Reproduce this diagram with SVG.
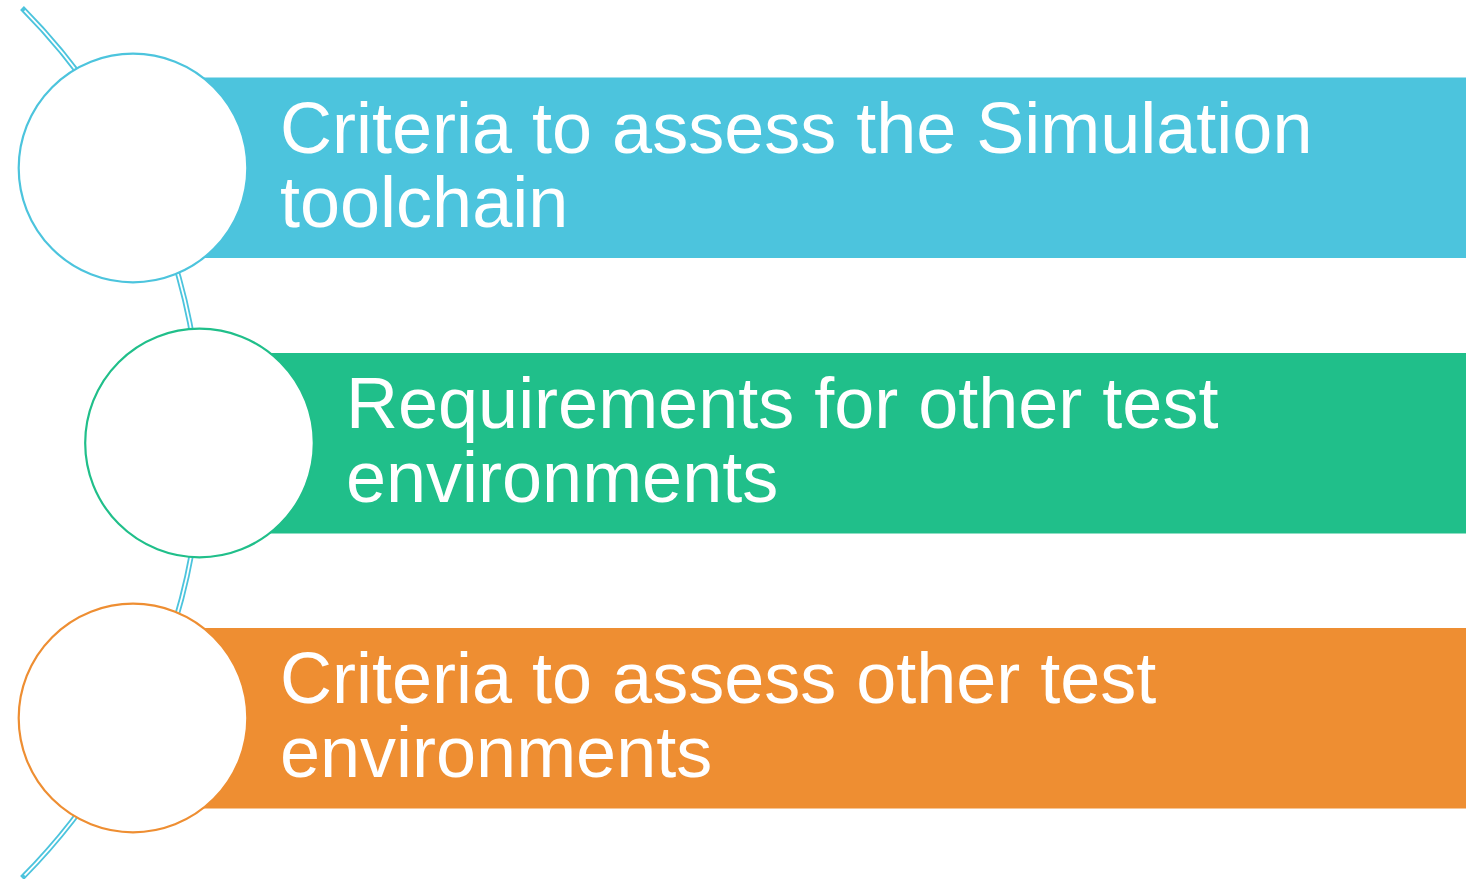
<svg xmlns="http://www.w3.org/2000/svg" width="1466" height="879" viewBox="0 0 1466 879">
<style>
.lbl{font-family:"Liberation Sans",Arial,sans-serif;font-size:72px;fill:#ffffff}
.circ{fill:#ffffff;stroke-width:2.2}
</style>
<rect width="1466" height="879" fill="#ffffff"/>
<g id="connectors">
<path d="M22,8 A617,617 0 0 1 22,878" fill="none" stroke="#4CC4DD" stroke-width="5.4"/>
<path d="M24.6,10.6 A617,617 0 0 1 24.6,875.4" fill="none" stroke="#ffffff" stroke-width="1.8"/>
</g>
<g id="node1">
<rect x="133" y="77.5" width="1333" height="180.5" fill="#4CC4DD"/>
<circle class="circ" cx="133" cy="168" r="114.3" stroke="#4CC4DD"/>
<text class="lbl" x="280" y="153">Criteria to assess the Simulation</text>
<text class="lbl" x="280" y="227">toolchain</text>
</g>
<g id="node2">
<rect x="200" y="353" width="1266" height="180.5" fill="#20BF8A"/>
<circle class="circ" cx="199.5" cy="443" r="114.3" stroke="#20BF8A"/>
<text class="lbl" x="346" y="428">Requirements for other test</text>
<text class="lbl" x="346" y="502">environments</text>
</g>
<g id="node3">
<rect x="133" y="628" width="1333" height="180.5" fill="#EE8E32"/>
<circle class="circ" cx="133" cy="718" r="114.3" stroke="#EE8E32"/>
<text class="lbl" x="280" y="703">Criteria to assess other test</text>
<text class="lbl" x="280" y="777">environments</text>
</g>
</svg>
